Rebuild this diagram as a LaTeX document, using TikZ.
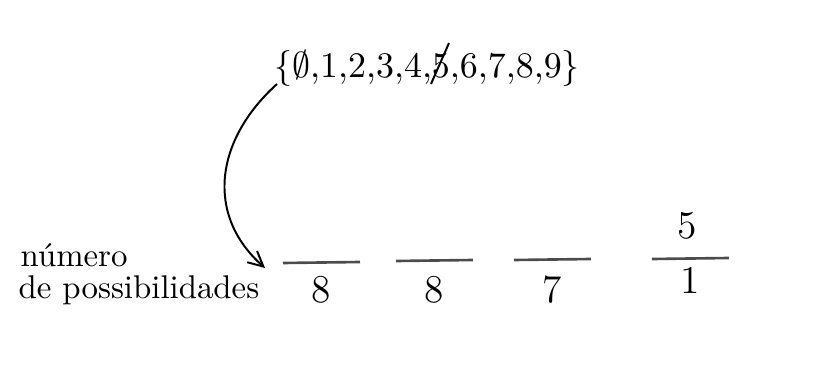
\documentclass[tikz,border=0pt]{standalone}
\usepackage{fontspec}
\usepackage{amsmath,amssymb}
\usetikzlibrary{arrows.meta,positioning}

\begin{document}
\begin{tikzpicture}[
  x=0.0107cm,y=-0.0107cm,
  blank/.style={thick,black!70},
  arr/.style={-{Straight Barb[length=1.6mm,width=1.6mm]},semithick},
  every node/.style={inner sep=0pt},
]
\useasboundingbox (0,0) rectangle (833,381);

%% Set of digits
\node[anchor=base,font=\fontsize{11.2}{13}\selectfont] (digits) at (427,77)
  {$\{\emptyset{,}1{,}2{,}3{,}4{,}5{,}6{,}7{,}8{,}9\}$};
\draw[semithick] (431,84) -- (449,43);

%% Label
\node[anchor=base west] (numero) at (20,266) {número};
\node[anchor=base west] (possib) at (18,298) {de possibilidades};

%% Blanks with their counts
\foreach \n/\xa/\ya/\d in {1/283/263/8,2/396/261/8,3/514/260/7}{
  \draw[blank] (\xa,\ya) coordinate (b\n) -- ++(77,-1);
  \node[anchor=base,font=\large] (c\n) at (\xa+38,302) {\d};
}
\draw[blank] (652,259) coordinate (b4) -- ++(77,-1);
\node[anchor=base,font=\large] (c4) at (690,293) {1};
\node[anchor=base,font=\large] (top4) at (687,238) {5};

%% Arrow from the set to the first blank
\coordinate (start) at (277,84);
\coordinate (end) at (265,268);
\draw[arr] (start) .. controls (215,140) and (205,215) .. (end);

\end{tikzpicture}
\end{document}
